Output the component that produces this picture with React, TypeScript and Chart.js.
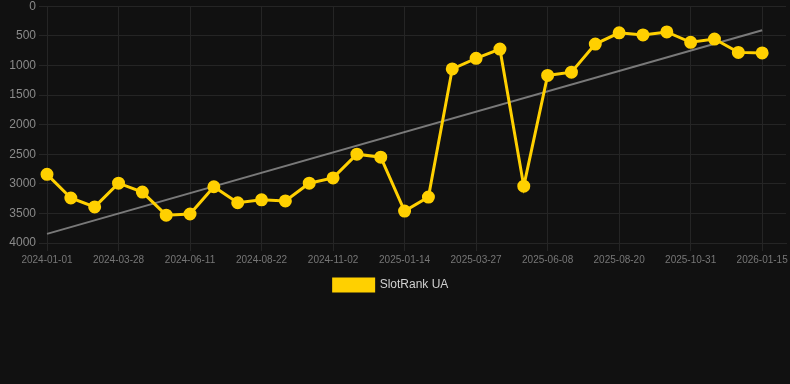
import React, { useEffect, useRef } from "react";
import { Chart, registerables } from "chart.js";

Chart.register(...registerables);

const dateLabels: string[] = [
  "2024-01-01", "2024-01-30", "2024-02-28",
  "2024-03-28", "2024-04-22", "2024-05-17",
  "2024-06-11", "2024-07-05", "2024-07-29",
  "2024-08-22", "2024-09-15", "2024-10-09",
  "2024-11-02", "2024-11-26", "2024-12-20",
  "2025-01-14", "2025-02-07", "2025-03-03",
  "2025-03-27", "2025-04-20", "2025-05-14",
  "2025-06-08", "2025-07-02", "2025-07-26",
  "2025-08-20", "2025-09-13", "2025-10-07",
  "2025-10-31", "2025-11-25", "2025-12-20",
  "2026-01-15", "2026-02-08",
];

const rankValues: (number | null)[] = [
  2840, 3240, 3390, 2990, 3140, 3530, 3510, 3050, 3320, 3270,
  3290, 2990, 2900, 2500, 2550, 3460, 3225, 1060, 880, 725,
  3040, 1170, 1115, 640, 450, 485, 435, 610, 555, 780,
  790, null,
];

const yTicks = { min: 0, max: 4000, step: 500 };
const seriesName = "SlotRank UA";

function trendFrom(values: (number | null)[]): (number | null)[] {
  const pts: [number, number][] = [];
  values.forEach((v, i) => {
    if (v !== null) pts.push([i, v]);
  });
  const n = pts.length;
  const mx = pts.reduce((s, p) => s + p[0], 0) / n;
  const my = pts.reduce((s, p) => s + p[1], 0) / n;
  let num = 0;
  let den = 0;
  pts.forEach(([x, y]) => {
    num += (x - mx) * (y - my);
    den += (x - mx) * (x - mx);
  });
  const slope = num / den;
  const first = pts[0][0];
  const last = pts[n - 1][0];
  return values.map((_, i) =>
    i === first || i === last ? my + slope * (i - mx) : null
  );
}

const legendShift = {
  id: "legendShift",
  afterLayout(chart: any) {
    if (chart.legend) {
      chart.legend.left -= 6;
      chart.legend.right -= 6;
    }
  },
};

export default function App() {
  const ref = useRef<HTMLCanvasElement | null>(null);

  useEffect(() => {
    if (!ref.current) return;
    const font = "Arial, 'Liberation Sans', Helvetica, sans-serif";
    const chart = new Chart(ref.current, {
      type: "line",
      data: {
        labels: dateLabels,
        datasets: [
          {
            label: seriesName,
            data: rankValues,
            borderColor: "#FFD000",
            backgroundColor: "#FFD000",
            borderWidth: 3,
            pointRadius: 5,
            pointHoverRadius: 5,
            pointBackgroundColor: "#FFD000",
            pointBorderColor: "#FFD000",
            tension: 0,
          },
          {
            label: "trend",
            data: trendFrom(rankValues),
            borderColor: "rgba(140,140,140,0.85)",
            backgroundColor: "rgba(140,140,140,0.85)",
            borderWidth: 2,
            pointRadius: 0,
            spanGaps: true,
          },
        ],
      },
      options: {
        animation: false,
        responsive: true,
        maintainAspectRatio: false,
        layout: { padding: { left: 0, right: 0, top: 0, bottom: 0 } },
        plugins: {
          legend: {
            position: "bottom",
            labels: {
              color: "#d0d0d0",
              boxWidth: 40,
              boxHeight: 12,
              font: { family: font, size: 12 },
              filter: (item) => item.text === seriesName,
            },
          },
          tooltip: { enabled: false },
        },
        scales: {
          x: {
            type: "category",
            grid: { color: "#252525", tickLength: 8 },
            border: { color: "#252525" },
            ticks: {
              color: "#777777",
              font: { family: font, size: 10 },
              maxRotation: 0,
              autoSkip: false,
              callback: function (_v, i) {
                return i % 3 === 0 ? dateLabels[i] : null;
              },
            },
          },
          y: {
            reverse: true,
            min: yTicks.min,
            max: yTicks.max,
            grid: { color: "#252525", tickLength: 8 },
            border: { color: "#252525" },
            afterFit: (scale) => {
              scale.width = 47;
            },
            ticks: {
              stepSize: yTicks.step,
              color: "#8a8a8a",
              font: { family: font, size: 12 },
              callback: (v) => String(v),
            },
          },
        },
      },
      plugins: [legendShift],
    });
    return () => chart.destroy();
  }, []);

  return (
    <div
      style={{
        position: "fixed",
        left: 0,
        top: 0,
        width: 790,
        height: 384,
        background: "#111111",
        overflow: "hidden",
      }}
    >
      <div style={{ position: "absolute", left: 0, top: -4, width: 794, height: 305 }}>
        <canvas ref={ref} />
      </div>
    </div>
  );
}
